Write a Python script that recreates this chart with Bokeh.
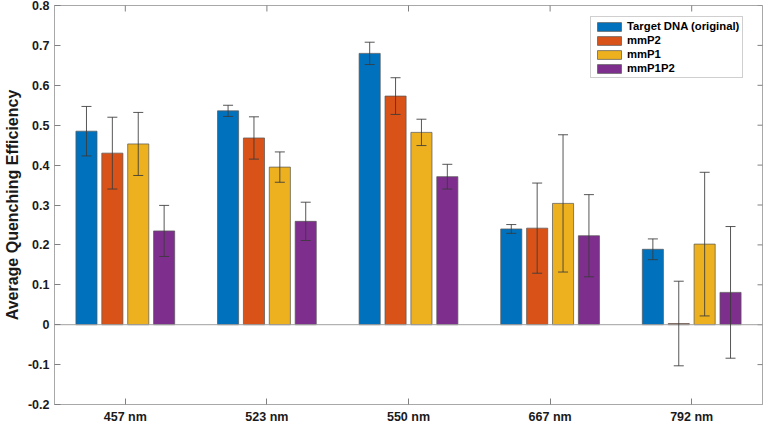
from bokeh.plotting import figure
from bokeh.models import (Range1d, FixedTicker, Whisker, TeeHead,
                          ColumnDataSource, Legend, LegendItem, Span)
from bokeh.embed import file_html
from bokeh.resources import INLINE

# ---- data ----
categories = ["457 nm", "523 nm", "550 nm", "667 nm", "792 nm"]
series_names = ["Target DNA (original)", "mmP2", "mmP1", "mmP1P2"]
target = [0.485, 0.536, 0.680, 0.240, 0.189]
target_err = [0.062, 0.014, 0.028, 0.011, 0.026]
mmP2 = [0.430, 0.468, 0.573, 0.242, 0.003]
mmP2_err = [0.090, 0.053, 0.046, 0.113, 0.106]
mmP1 = [0.453, 0.395, 0.482, 0.304, 0.202]
mmP1_err = [0.079, 0.038, 0.033, 0.172, 0.180]
mmP1P2 = [0.235, 0.259, 0.371, 0.223, 0.081]
mmP1P2_err = [0.064, 0.048, 0.031, 0.103, 0.165]
y_ticks = [-0.2, -0.1, 0, 0.1, 0.2, 0.3, 0.4, 0.5, 0.6, 0.7, 0.8]
y_tick_labels = ["-0.2", "-0.1", "0", "0.1", "0.2", "0.3", "0.4", "0.5", "0.6", "0.7", "0.8"]

# ---- style ----
FONT = "Liberation Sans"
colors = ["#0072BD", "#D95319", "#EDB120", "#7E2F8E"]
offsets = [-1.5, -0.5, 0.5, 1.5]
PITCH = 0.1828
BAR_W = 0.149
AX_COL = "#a8a8a8"
TICK_COL = "#808080"
TXT_COL = "#1a1a1a"
X_LO, X_HI = 0.5, 5.5
Y_LO, Y_HI = -0.2, 0.8

p = figure(width=763, height=426, output_backend="svg", toolbar_location=None,
           x_range=Range1d(X_LO, X_HI), y_range=Range1d(Y_LO, Y_HI),
           min_border_left=48, min_border_right=1, min_border_top=5,
           min_border_bottom=21)
p.xgrid.visible = False
p.ygrid.visible = False
p.outline_line_color = AX_COL
p.outline_line_width = 1
p.background_fill_color = "white"
p.border_fill_color = "white"

x_idx = list(range(1, len(categories) + 1))

# baseline
p.add_layout(Span(location=0, dimension="width", line_color="#a0a0a0", line_width=1, level="glyph"))

data = [(target, target_err), (mmP2, mmP2_err), (mmP1, mmP1_err), (mmP1P2, mmP1P2_err)]
renderers = []
whiskers = []
for k, (vals, errs) in enumerate(data):
    xs = [x + offsets[k] * PITCH for x in x_idx]
    src = ColumnDataSource(dict(
        x=xs, top=vals,
        upper=[v + e for v, e in zip(vals, errs)],
        lower=[v - e for v, e in zip(vals, errs)],
    ))
    r = p.vbar(x="x", top="top", bottom=0, width=BAR_W, source=src,
               fill_color=colors[k], line_color="#555555", line_alpha=0.7, line_width=1)
    renderers.append(r)
    w = Whisker(base="x", upper="upper", lower="lower", source=src,
                line_color="#3a3a3a", line_alpha=0.85, line_width=1, level="annotation",
                upper_head=TeeHead(size=10, line_color="#3a3a3a", line_alpha=0.85, line_width=1),
                lower_head=TeeHead(size=10, line_color="#3a3a3a", line_alpha=0.85, line_width=1))
    whiskers.append(w)
for w in whiskers:
    p.add_layout(w)

# box ticks on top and right edges (half of each dash is clipped by the frame)
p.scatter(x=[X_HI] * len(y_ticks), y=y_ticks, marker="dash", size=10,
          line_color=TICK_COL, line_width=1)
p.scatter(x=x_idx, y=[Y_HI] * len(x_idx), marker="dash", size=12, angle=1.5708,
          line_color=TICK_COL, line_width=1)

# ---- axes ----
xax = p.xaxis[0]
xax.ticker = FixedTicker(ticks=x_idx)
xax.major_label_overrides = {x: c for x, c in zip(x_idx, categories)}
yax = p.yaxis[0]
yax.ticker = FixedTicker(ticks=y_ticks)
yax.major_label_overrides = {t: l for t, l in zip(y_ticks, y_tick_labels)}
yax.axis_label = "Average Quenching Efficiency"
yax.axis_label_text_font = FONT
yax.axis_label_text_font_style = "bold"
yax.axis_label_text_font_size = "16px"
yax.axis_label_text_color = TXT_COL
yax.axis_label_standoff = 4

for ax in (xax, yax):
    ax.major_label_text_font = FONT
    ax.major_label_text_font_style = "bold"
    ax.major_label_text_font_size = "12.5px"
    ax.major_label_text_color = TXT_COL
    ax.major_label_standoff = 5
    ax.axis_line_color = AX_COL
    ax.major_tick_line_color = TICK_COL
    ax.major_tick_in = 6
    ax.major_tick_out = 0
    ax.minor_tick_line_color = None

# ---- legend ----
legend = Legend(items=[LegendItem(label=n, renderers=[r]) for n, r in zip(series_names, renderers)],
                location=(536, 326))
legend.label_text_font = FONT
legend.label_text_font_style = "bold"
legend.label_text_font_size = "11.3px"
legend.label_text_color = "#000000"
legend.glyph_width = 30
legend.glyph_height = 11
legend.label_standoff = 3
legend.label_height = 12
legend.spacing = 2
legend.padding = 3
legend.margin = 0
legend.border_line_color = "#a0a0a0"
legend.border_line_width = 1
legend.background_fill_color = "white"
legend.background_fill_alpha = 1
p.add_layout(legend)

open("out.html", "w").write(file_html(p, INLINE))
